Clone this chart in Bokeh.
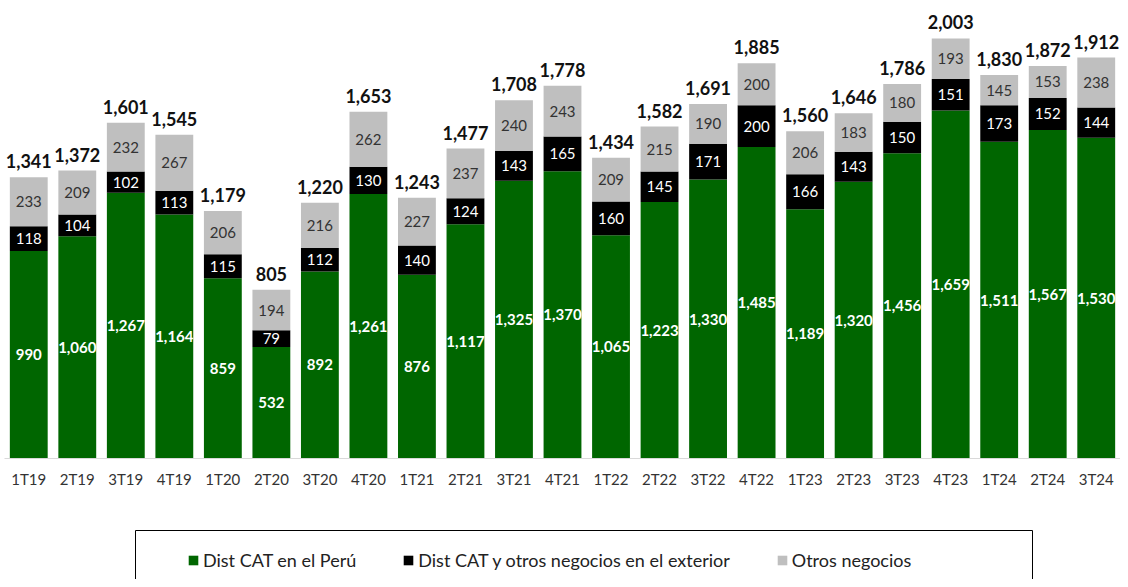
from bokeh.plotting import figure
from bokeh.models import (ColumnDataSource, FactorRange, Range1d, Legend, LegendItem,
                          BoxAnnotation)
from bokeh.layouts import column
from bokeh.core.properties import value
from bokeh.embed import file_html
from bokeh.resources import INLINE

cats = ["1T19", "2T19", "3T19", "4T19", "1T20", "2T20", "3T20", "4T20", "1T21", "2T21",
        "3T21", "4T21", "1T22", "2T22", "3T22", "4T22", "1T23", "2T23", "3T23", "4T23",
        "1T24", "2T24", "3T24"]
peru = [990, 1060, 1267, 1164, 859, 532, 892, 1261, 876, 1117, 1325, 1370, 1065, 1223,
        1330, 1485, 1189, 1320, 1456, 1659, 1511, 1567, 1530]
exterior = [118, 104, 102, 113, 115, 79, 112, 130, 140, 124, 143, 165, 160, 145, 171,
            200, 166, 143, 150, 151, 173, 152, 144]
otros = [233, 209, 232, 267, 206, 194, 216, 262, 227, 237, 240, 243, 209, 215, 190, 200,
         206, 183, 180, 193, 145, 153, 238]
totals = [1341, 1372, 1601, 1545, 1179, 805, 1220, 1653, 1243, 1477, 1708, 1778, 1434,
          1582, 1691, 1885, 1560, 1646, 1786, 2003, 1830, 1872, 1912]
series_names = ["Dist CAT en el Perú", "Dist CAT y otros negocios en el exterior", "Otros negocios"]

GREEN = "#006600"
BLACK = "#000000"
GRAY = "#bfbfbf"
FONT = "Lato"
COLORS = [GREEN, BLACK, GRAY]
STACK = ["peru", "exterior", "otros"]

fmt = lambda v: f"{v:,}"

src = ColumnDataSource(dict(
    x=cats, peru=peru, exterior=exterior, otros=otros,
    top_all=[a + b + c for a, b, c in zip(peru, exterior, otros)],
    y_peru=[a / 2 for a in peru],
    y_ext=[a + b / 2 for a, b in zip(peru, exterior)],
    y_otr=[a + b + c / 2 for a, b, c in zip(peru, exterior, otros)],
    t_peru=[fmt(v) for v in peru],
    t_ext=[fmt(v) for v in exterior],
    t_otr=[fmt(v) for v in otros],
    t_tot=[fmt(v) for v in totals],
))

# ---- main chart ----
p = figure(x_range=FactorRange(factors=cats, range_padding=0), y_range=Range1d(0, 2184),
           width=1120, height=498, output_backend="svg", toolbar_location=None,
           min_border_left=4, min_border_right=0, min_border_top=0, min_border_bottom=40)
p.outline_line_color = None
p.grid.grid_line_color = None
p.yaxis.visible = False

p.vbar_stack(STACK, x="x", width=0.78, source=src, color=COLORS, line_color=None)

p.text(x="x", y="y_peru", text="t_peru", source=src, text_align="center", text_baseline="middle",
       text_color="white", text_font=value(FONT), text_font_size="15px", text_font_style="bold")
p.text(x="x", y="y_ext", text="t_ext", source=src, text_align="center", text_baseline="middle",
       text_color="white", text_font=value(FONT), text_font_size="15px")
p.text(x="x", y="y_otr", text="t_otr", source=src, text_align="center", text_baseline="middle",
       text_color="#333333", text_font=value(FONT), text_font_size="15px")
p.text(x="x", y="top_all", text="t_tot", source=src, text_align="center", text_baseline="bottom",
       y_offset=-9, text_color="#111111", text_font=value(FONT), text_font_size="18px",
       text_font_style="bold")

ax = p.xaxis[0]
ax.axis_line_color = "#d9d9d9"
ax.major_tick_line_color = None
ax.minor_tick_line_color = None
ax.major_label_standoff = 5
ax.major_label_text_font = FONT
ax.major_label_text_font_size = "15px"
ax.major_label_text_color = "#333333"

# ---- legend panel: frame aligned with the chart, ranges in pixel-like units for the box ----
p2 = figure(x_range=Range1d(0, 1116), y_range=Range1d(0, 81),
            width=1120, height=81, output_backend="svg", toolbar_location=None,
            x_axis_location=None, y_axis_location=None,
            min_border_left=4, min_border_right=0, min_border_top=0, min_border_bottom=0)
p2.grid.grid_line_color = None
p2.outline_line_color = None
p2.add_layout(BoxAnnotation(left=131, right=1028, bottom=-10, top=49,
                            fill_alpha=0, line_color="#000000", line_width=1, line_alpha=1))
# hidden proxies that carry the legend swatches
lrs = [p2.vbar(x=col, top=col, width=1, source=src, color=c, line_color=None, visible=False)
       for col, c in zip(STACK, COLORS)]

legend = Legend(items=[LegendItem(label=n, renderers=[r]) for n, r in zip(series_names, lrs)],
                orientation="horizontal", location=(183, 8), margin=0,
                padding=0, spacing=46, glyph_width=12, glyph_height=12, label_standoff=4,
                label_text_font=FONT, label_text_font_size="18px", label_text_color="#222222",
                border_line_color=None, background_fill_alpha=0, label_height=20)
p2.add_layout(legend, "center")

open("out.html", "w").write(file_html(column(p, p2, spacing=0), INLINE))
